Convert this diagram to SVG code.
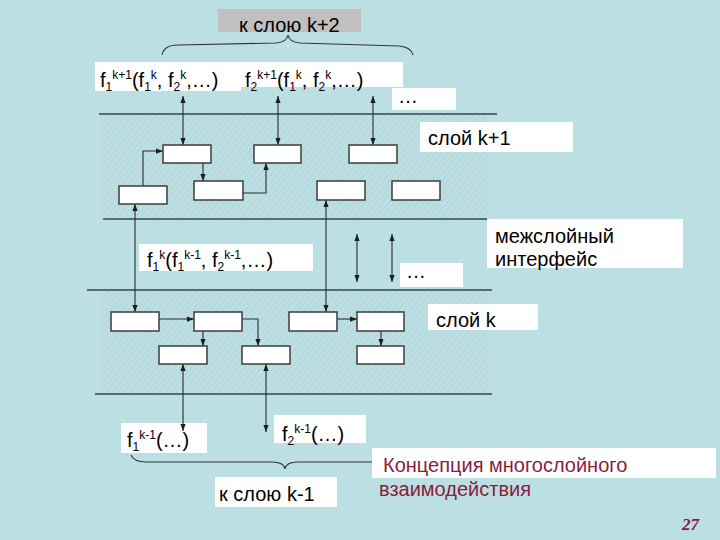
<svg xmlns="http://www.w3.org/2000/svg" width="720" height="540" viewBox="0 0 720 540">
<defs>
<style>
.t{font-family:"Liberation Sans",Arial,sans-serif;font-size:20px;fill:#000}
.s{font-size:12px}
.lbl{fill:#fff}
.box{fill:#fff;stroke:#3d3d3d;stroke-width:1.5}
.layer{stroke:#2f4a4a;stroke-width:1.3;fill:none}
.con{stroke:#2a2a2a;stroke-width:1.1;fill:none}
.arr{marker-end:url(#ah)}
.dbl{marker-start:url(#ah);marker-end:url(#ah)}
.brace{stroke:#333;stroke-width:1.1;fill:none}
.red{font-family:"Liberation Sans",Arial,sans-serif;font-size:20px;fill:#8c1c3c}
</style>
<marker id="ah" viewBox="0 0 8 6" refX="8" refY="3" markerWidth="7" markerHeight="5.5" markerUnits="userSpaceOnUse" orient="auto-start-reverse">
<path d="M0,0 L8,3 L0,6 z" fill="#1e1e1e"/>
</marker>
<pattern id="hatch" width="4.5" height="5" patternUnits="userSpaceOnUse" patternTransform="rotate(40)">
<line x1="0" y1="0" x2="0" y2="5" stroke="#a3c5ca" stroke-width="0.8"/>
</pattern>
</defs>
<rect width="720" height="540" fill="#bcdfe3"/>
<g id="layers">
<rect x="100" y="114" width="387" height="105" fill="url(#hatch)"/>
<rect x="100" y="290" width="388" height="104" fill="url(#hatch)"/>
<line class="layer" x1="99" y1="114" x2="497" y2="114"/>
<line class="layer" x1="103" y1="219" x2="487" y2="219"/>
<line class="layer" x1="87" y1="290" x2="492" y2="290"/>
<line class="layer" x1="95" y1="394" x2="492" y2="394"/>
</g>
<g id="label-k2">
<rect x="218" y="9" width="143" height="23" fill="#c0c0c0"/>
<text class="t" x="239" y="32">к слою k+2</text>
</g>
<g id="brace-top">
<path class="brace" d="M162,55 Q164,45 178,45 L276,43 Q287,42 288,35 Q289,42 300,43 L399,46 Q411,47 413,55"/>
</g>
<g id="label-f1-k1">
<rect class="lbl" x="95" y="62" width="146" height="29"/>
<text class="t" x="100" y="87">f<tspan class="s" y="91">1</tspan><tspan class="s" y="79">k+1</tspan><tspan y="87">(f</tspan><tspan class="s" y="91">1</tspan><tspan class="s" y="79">k</tspan><tspan y="87">, f</tspan><tspan class="s" y="91">2</tspan><tspan class="s" y="79">k</tspan><tspan y="87">,…)</tspan></text>
</g>
<g id="label-f2-k1">
<rect class="lbl" x="241" y="62" width="162" height="25"/>
<text class="t" x="245" y="87">f<tspan class="s" y="91">2</tspan><tspan class="s" y="79">k+1</tspan><tspan y="87">(f</tspan><tspan class="s" y="91">1</tspan><tspan class="s" y="79">k</tspan><tspan y="87">, f</tspan><tspan class="s" y="91">2</tspan><tspan class="s" y="79">k</tspan><tspan y="87">,…)</tspan></text>
</g>
<g id="dots-top">
<rect class="lbl" x="392" y="88" width="64" height="22"/>
<text class="t" x="398" y="103">…</text>
</g>
<g id="label-layer-k1">
<rect class="lbl" x="420" y="122" width="153" height="30"/>
<text class="t" x="428" y="145">слой k+1</text>
</g>
<g id="label-interface">
<rect class="lbl" x="487" y="219" width="196" height="49"/>
<text class="t" x="495" y="243">межслойный</text>
<text class="t" x="495" y="266">интерфейс</text>
</g>
<g id="label-f1-k">
<rect class="lbl" x="139" y="244" width="174" height="27"/>
<text class="t" x="147" y="267">f<tspan class="s" y="271">1</tspan><tspan class="s" y="259">k</tspan><tspan y="267">(f</tspan><tspan class="s" y="271">1</tspan><tspan class="s" y="259">k-1</tspan><tspan y="267">, f</tspan><tspan class="s" y="271">2</tspan><tspan class="s" y="259">k-1</tspan><tspan y="267">,…)</tspan></text>
</g>
<g id="dots-mid">
<rect class="lbl" x="400" y="263" width="63" height="24"/>
<text class="t" x="406" y="278">…</text>
</g>
<g id="label-layer-k">
<rect class="lbl" x="428" y="304" width="110" height="26"/>
<text class="t" x="436" y="327">слой k</text>
</g>
<g id="label-f1-km1">
<rect class="lbl" x="121" y="423" width="86" height="30"/>
<text class="t" x="127" y="447">f<tspan class="s" y="451">1</tspan><tspan class="s" y="439">k-1</tspan><tspan y="447">(…)</tspan></text>
</g>
<g id="label-f2-km1">
<rect class="lbl" x="274" y="415" width="92" height="28"/>
<text class="t" x="282" y="441">f<tspan class="s" y="445">2</tspan><tspan class="s" y="433">k-1</tspan><tspan y="441">(…)</tspan></text>
</g>
<g id="brace-bottom">
<path class="brace" d="M131,455 Q134,462 146,462 L272,462 Q284,462 285,469 Q286,462 298,462 L430,462 Q440,462 442,455"/>
</g>
<g id="label-km1">
<rect class="lbl" x="215" y="477" width="122" height="30"/>
<text class="t" x="219" y="501">к слою k-1</text>
</g>
<g id="caption">
<rect class="lbl" x="372" y="448" width="344" height="30"/>
<text class="red" x="383" y="472">Концепция многослойного</text>
<text class="red" x="379" y="496">взаимодействия</text>
</g>
<g id="page-number">
<text x="682" y="530" style="font-family:'Liberation Serif','Times New Roman',serif;font-size:17px;font-weight:bold;font-style:italic;fill:#8c1c3c">27</text>
</g>
<g id="connectors">
<line class="con dbl" x1="183" y1="96" x2="183" y2="145"/>
<line class="con dbl" x1="278" y1="96" x2="278" y2="145"/>
<line class="con dbl" x1="373" y1="96" x2="373" y2="145"/>
<polyline class="con arr" points="143,186 143,151 163,151"/>
<line class="con arr" x1="203" y1="163" x2="203" y2="181"/>
<polyline class="con arr" points="243,193 266,193 266,163"/>
<line class="con dbl" x1="135" y1="204" x2="135" y2="312"/>
<line class="con dbl" x1="326" y1="200" x2="326" y2="312"/>
<line class="con dbl" x1="357" y1="234" x2="357" y2="282"/>
<line class="con dbl" x1="392" y1="234" x2="392" y2="282"/>
<line class="con arr" x1="159" y1="319" x2="194" y2="319"/>
<line class="con arr" x1="337" y1="319" x2="357" y2="319"/>
<line class="con arr" x1="203" y1="331" x2="203" y2="346"/>
<polyline class="con arr" points="242,319 258,319 258,346"/>
<line class="con arr" x1="381" y1="331" x2="381" y2="346"/>
<line class="con dbl" x1="183" y1="364" x2="183" y2="431"/>
<line class="con dbl" x1="266" y1="364" x2="266" y2="432"/>
</g>
<g id="node-a"><rect class="box" x="163" y="145" width="48" height="18"/></g>
<g id="node-b"><rect class="box" x="254" y="145" width="47" height="18"/></g>
<g id="node-c"><rect class="box" x="349" y="145" width="48" height="18"/></g>
<g id="node-d"><rect class="box" x="119" y="186" width="48" height="18"/></g>
<g id="node-e"><rect class="box" x="194" y="181" width="49" height="19"/></g>
<g id="node-f"><rect class="box" x="317" y="181" width="48" height="19"/></g>
<g id="node-g"><rect class="box" x="392" y="181" width="48" height="19"/></g>
<g id="node-h"><rect class="box" x="111" y="312" width="48" height="19"/></g>
<g id="node-i"><rect class="box" x="194" y="312" width="48" height="19"/></g>
<g id="node-j"><rect class="box" x="289" y="312" width="48" height="19"/></g>
<g id="node-k"><rect class="box" x="357" y="312" width="47" height="19"/></g>
<g id="node-l"><rect class="box" x="159" y="346" width="48" height="18"/></g>
<g id="node-m"><rect class="box" x="242" y="346" width="48" height="18"/></g>
<g id="node-n"><rect class="box" x="357" y="346" width="47" height="18"/></g>
</svg>
